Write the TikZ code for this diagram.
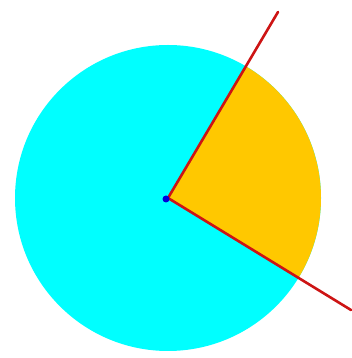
\documentclass[tikz,border=0pt]{standalone}
\definecolor{disc}{RGB}{0,255,255}
\definecolor{wedge}{RGB}{255,200,0}
\definecolor{ray}{RGB}{205,20,20}
\definecolor{dot}{RGB}{0,0,220}
\tikzset{raystyle/.style={draw=ray,line width=2.6pt,line cap=round}}
\begin{document}
\begin{tikzpicture}[x=1pt,y=1pt]
\useasboundingbox (0,0) rectangle (352,358);
\coordinate (c) at (168,160);
\coordinate (a) at (278,346);
\coordinate (b) at (351,48);
\fill[disc] (c) circle[radius=153pt];
\fill[wedge] (c) -- ++(-31.5:153pt) arc[start angle=-31.5,end angle=59.4,radius=153pt] -- cycle;
\draw[raystyle] (c) -- (a);
\draw[raystyle] (c) -- (b);
\fill[dot] (166,159) circle[radius=3.5pt];
\end{tikzpicture}
\end{document}
